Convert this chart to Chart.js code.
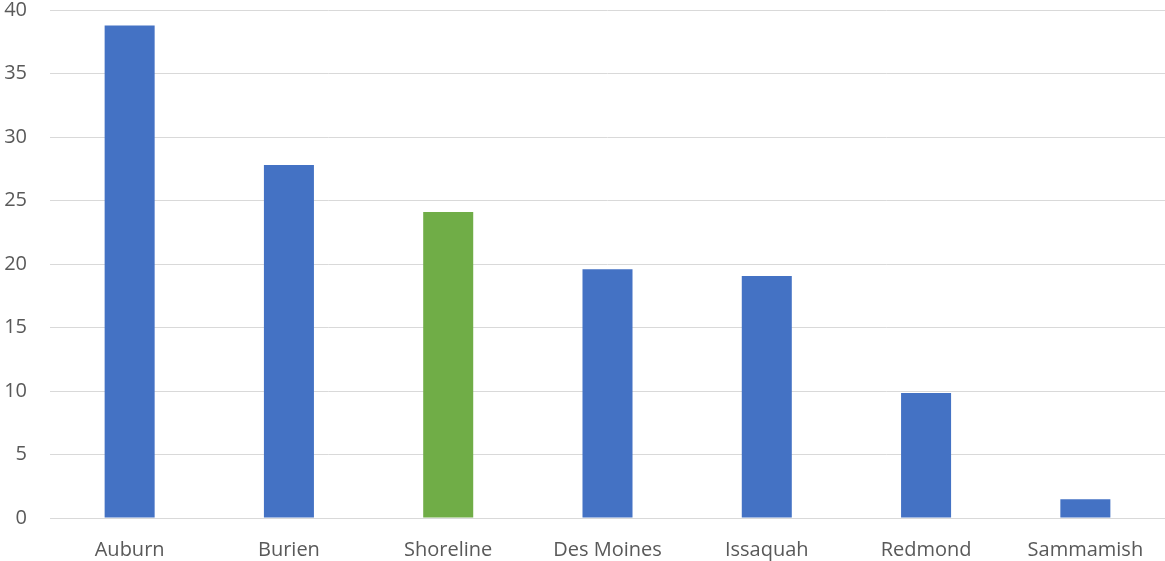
<!DOCTYPE html>
<html lang="en">
    <head>
        <meta charset="UTF-8">
        <title>Bar chart</title>
        <script src="https://cdn.jsdelivr.net/npm/chart.js"></script>
        <style>
            html, body { margin: 0; padding: 0; background: #fff; }
            #wrap { width: 1165px; height: 561px; position: relative; }
        </style>
    </head>
    <body>
        <div id="wrap"><canvas id="barChart"></canvas></div>
        <script>
            const ciudades = ['Auburn', 'Burien', 'Shoreline', 'Des Moines', 'Issaquah', 'Redmond', 'Sammamish'];
            const valores = [38.77, 27.8, 24.09, 19.59, 19.05, 9.85, 1.47];
            const colores = ['#4472C4', '#4472C4', '#70AD47', '#4472C4', '#4472C4', '#4472C4', '#4472C4'];
            const ticksY = [0, 5, 10, 15, 20, 25, 30, 35, 40];

            const ctx = document.getElementById('barChart').getContext('2d');
            const grisTexto = '#595959';
            const grisLinea = '#d9d9d9';

            new Chart(ctx, {
                type: 'bar',
                data: {
                    labels: ciudades,
                    datasets: [{
                        data: valores,
                        backgroundColor: colores,
                        borderWidth: 0,
                        categoryPercentage: 1,
                        barPercentage: 0.314
                    }]
                },
                options: {
                    responsive: true,
                    maintainAspectRatio: false,
                    animation: false,
                    layout: { padding: { top: 10, right: 0, left: 0, bottom: 0 } },
                    plugins: {
                        legend: { display: false },
                        tooltip: { enabled: false }
                    },
                    scales: {
                        x: {
                            grid: { display: false, drawTicks: false },
                            border: { display: true, color: grisLinea, width: 1 },
                            ticks: {
                                color: grisTexto,
                                font: { family: 'Open Sans', size: 20 },
                                padding: 20,
                                maxRotation: 0
                            },
                            afterFit: (scale) => {
                                scale.height = 43;
                                scale.paddingLeft = 0;
                                scale.paddingRight = 0;
                            }
                        },
                        y: {
                            min: 0,
                            max: 40,
                            afterBuildTicks: (scale) => {
                                scale.ticks = ticksY.map(v => ({ value: v }));
                            },
                            grid: { color: grisLinea, lineWidth: 1, drawTicks: false },
                            border: { display: false },
                            ticks: {
                                color: grisTexto,
                                font: { family: 'Open Sans', size: 20 },
                                padding: 23
                            },
                            afterFit: (scale) => {
                                scale.width = 50;
                                scale.paddingTop = 0;
                                scale.paddingBottom = 0;
                            }
                        }
                    }
                }
            });
        </script>
    </body>
</html>
